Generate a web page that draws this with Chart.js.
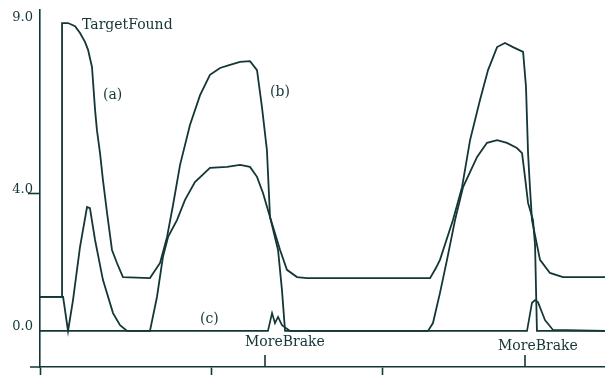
<!DOCTYPE html>
<html>
<head>
<meta charset="utf-8">
<script src="https://cdn.jsdelivr.net/npm/chart.js@4/dist/chart.umd.min.js"></script>
<style>
  html, body { margin: 0; padding: 0; background: #fff; }
  #wrap { width: 605px; height: 375px; }
</style>
</head>
<body>
<div id="wrap"><canvas id="trace"></canvas></div>
<script>
// upper trace (a)/(b)
const upperT = [0, 1.29, 1.29, 1.64, 2.05, 2.34, 2.63, 2.81, 3.04, 3.22, 3.33, 3.51, 3.68, 3.92, 4.21, 4.50, 4.85, 6.43,
  7.02, 7.43, 7.78, 8.19, 8.77, 9.36, 9.94, 10.53, 11.11, 11.70, 12.28, 12.69, 12.98, 13.27, 13.45, 13.92, 14.15, 14.33,
  22.69, 22.98, 23.39, 23.80, 24.27, 24.74, 25.56, 26.14, 26.73, 27.31, 27.89, 28.19, 28.36, 28.54, 28.83, 28.95, 29.06, 33.04];
const upperV = [0.99, 0.99, 8.97, 8.97, 8.88, 8.68, 8.42, 8.19, 7.69, 6.44, 5.85, 5.18, 4.40, 3.44, 2.36, 1.98, 1.57, 1.54,
  1.98, 2.74, 3.67, 4.84, 6.00, 6.87, 7.46, 7.66, 7.75, 7.84, 7.86, 7.60, 6.52, 5.27, 3.32, 2.36, 1.19, 0,
  0, 0.23, 1.11, 2.07, 3.23, 4.19, 5.07, 5.48, 5.56, 5.48, 5.33, 5.18, 4.49, 3.73, 3.23, 2.50, 0, 0];

// lower trace (c)
const lowerT = [0, 1.35, 1.64, 1.93, 2.34, 2.75, 2.92, 3.22, 3.68, 4.27, 4.68, 5.09, 6.43, 6.84, 7.19, 7.49, 8.01, 8.48,
  9.06, 9.94, 10.94, 11.70, 12.28, 12.69, 13.04, 13.45, 14.04, 14.44, 15.03, 15.61, 22.81, 23.16, 23.39, 24.15, 24.68,
  25.15, 25.73, 26.20, 26.73, 27.19, 27.66, 28.25, 28.42, 28.54, 28.65, 28.77, 29.24, 29.82, 30.58, 33.04];
const lowerV = [0.99, 0.99, 0, 0.90, 2.45, 3.61, 3.58, 2.65, 1.49, 0.52, 0.17, 0, 0, 0.99, 2.16, 2.74, 3.23, 3.82,
  4.34, 4.75, 4.78, 4.84, 4.78, 4.49, 4.02, 3.32, 2.36, 1.78, 1.57, 1.54, 1.54, 1.84, 2.07, 3.23, 4.19,
  5.56, 6.73, 7.60, 8.27, 8.39, 8.27, 8.13, 7.11, 5.18, 4.19, 3.23, 2.07, 1.69, 1.57, 1.57];

// brake trace (zero line with spikes)
const brakeT = [0, 13.33, 13.57, 13.74, 13.92, 14.15, 14.62, 28.48, 28.77, 28.95, 29.12, 29.53, 30.0, 33.04];
const brakeV = [0, 0, 0.52, 0.23, 0.41, 0.17, 0, 0, 0.82, 0.90, 0.84, 0.32, 0.03, 0];

const yTicks = [0, 4, 9];
const yTickLabels = ['0.0', '4.0', '9.0'];
const xTicks = [0, 10, 20];

// event markers on the time axis
const eventT = [13.16, 28.36];

// text notes [label, t, value]
const notes = [
  ['TargetFound', 2.46, 8.91],
  ['(a)', 3.68, 6.85],
  ['(b)', 13.45, 6.96],
  ['(c)', 9.36, 0.35],
  ['MoreBrake', 11.99, -0.32],
  ['MoreBrake', 26.78, -0.44]
];

const ink = '#143636';

function pts(t, v) {
  return t.map((x, i) => ({ x: x, y: v[i] }));
}

const notesPlugin = {
  id: 'notes',
  afterDraw(chart) {
    const c = chart.ctx;
    const xs = chart.scales.x, ys = chart.scales.y;
    c.save();
    c.fillStyle = ink;
    c.strokeStyle = ink;
    c.font = '14px "DejaVu Serif"';
    c.textBaseline = 'middle';
    c.textAlign = 'left';
    notes.forEach(n => {
      c.fillText(n[0], xs.getPixelForValue(n[1]), ys.getPixelForValue(n[2]));
    });
    c.lineWidth = 1.6;
    c.beginPath();
    eventT.forEach(t => {
      const px = Math.round(xs.getPixelForValue(t));
      c.moveTo(px, chart.chartArea.bottom);
      c.lineTo(px, chart.chartArea.bottom - 12);
    });
    // axis line runs a little past the y axis
    c.moveTo(chart.chartArea.left - 10, chart.chartArea.bottom);
    c.lineTo(chart.chartArea.left, chart.chartArea.bottom);
    c.stroke();
    c.restore();
  }
};

new Chart(document.getElementById('trace'), {
  type: 'line',
  data: {
    datasets: [
      { label: 'brake', data: pts(brakeT, brakeV), borderColor: ink, borderWidth: 1.7, pointRadius: 0, fill: false },
      { label: '(c)', data: pts(lowerT, lowerV), borderColor: ink, borderWidth: 1.8, pointRadius: 0, fill: false },
      { label: '(a)/(b)', data: pts(upperT, upperV), borderColor: ink, borderWidth: 1.8, pointRadius: 0, fill: false }
    ]
  },
  options: {
    responsive: true,
    maintainAspectRatio: false,
    animation: false,
    layout: { padding: { top: 10, right: 0, bottom: 0, left: 0 } },
    plugins: {
      legend: { display: false },
      tooltip: { enabled: false }
    },
    scales: {
      x: {
        type: 'linear',
        min: 0,
        max: 33.04,
        afterBuildTicks: (axis) => { axis.ticks = xTicks.map(v => ({ value: v })); },
        ticks: { display: false },
        grid: { drawOnChartArea: false, tickLength: 8, tickColor: ink, tickWidth: 1.6 },
        border: { color: ink, width: 1.6 }
      },
      y: {
        min: -1.05,
        max: 9.35,
        afterBuildTicks: (axis) => { axis.ticks = yTicks.map(v => ({ value: v })); },
        afterFit: (axis) => { axis.width = 40; },
        ticks: {
          color: ink,
          font: { family: 'DejaVu Serif', size: 13 },
          padding: -5,
          labelOffset: -4,
          callback: (v) => yTickLabels[yTicks.indexOf(v)]
        },
        grid: {
          drawOnChartArea: false,
          tickLength: 12,
          tickWidth: 1.6,
          tickColor: (ctx) => (ctx.tick && ctx.tick.value === 4 ? ink : 'rgba(0,0,0,0)')
        },
        border: { color: ink, width: 1.6 }
      }
    }
  }
  ,
  plugins: [notesPlugin]
});
</script>
</body>
</html>
